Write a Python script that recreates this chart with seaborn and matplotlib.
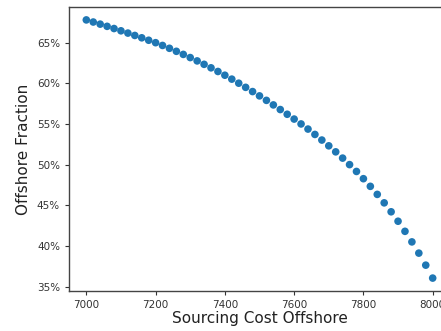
import matplotlib
matplotlib.use("Agg")
import matplotlib.pyplot as plt
from matplotlib.ticker import PercentFormatter, MultipleLocator
import numpy as np
import pandas as pd
import seaborn as sns

# Offshore sourcing cost sweep and resulting offshore fraction (%)
sourcing_cost = list(range(7000, 8001, 20))
offshore_fraction = [
    67.80, 67.54, 67.28, 67.01, 66.74, 66.46, 66.18, 65.89, 65.60, 65.30,
    65.00, 64.66, 64.31, 63.94, 63.56, 63.17, 62.76, 62.34, 61.91, 61.46,
    61.00, 60.52, 60.02, 59.51, 58.99, 58.46, 57.91, 57.35, 56.78, 56.20,
    55.61, 55.01, 54.38, 53.72, 53.03, 52.32, 51.58, 50.81, 50.01, 49.17,
    48.28, 47.34, 46.35, 45.31, 44.21, 43.05, 41.81, 40.51, 39.13, 37.65,
    36.06,
]
x_ticks = [7000, 7200, 7400, 7600, 7800, 8000]

df = pd.DataFrame({"Sourcing Cost Offshore": sourcing_cost,
                   "Offshore Fraction": offshore_fraction})

sns.set_style("ticks")
plt.rcParams["font.family"] = ["DejaVu Sans"]

fig = plt.figure(figsize=(4.41, 3.31), dpi=100)
ax = fig.add_axes([69 / 441, 40 / 331, 381 / 441, 284 / 331])

sns.scatterplot(data=df, x="Sourcing Cost Offshore", y="Offshore Fraction",
                ax=ax, color="#1f77b4", s=30, linewidth=0, edgecolor="none")

ax.margins(0.05)
ax.set_xticks(x_ticks)
ax.yaxis.set_major_locator(MultipleLocator(5))
ax.yaxis.set_major_formatter(PercentFormatter(xmax=100, decimals=0))
ax.tick_params(labelsize=7.5, colors="#333333", length=3, width=0.8)
ax.set_xlabel("Sourcing Cost Offshore", fontsize=11, color="#222222", labelpad=1)
ax.set_ylabel("Offshore Fraction", fontsize=11, color="#222222", labelpad=4)
for sp in ax.spines.values():
    sp.set_visible(True)
    sp.set_color("#444444")
    sp.set_linewidth(1.0)

fig.savefig("out.png", dpi=100)
